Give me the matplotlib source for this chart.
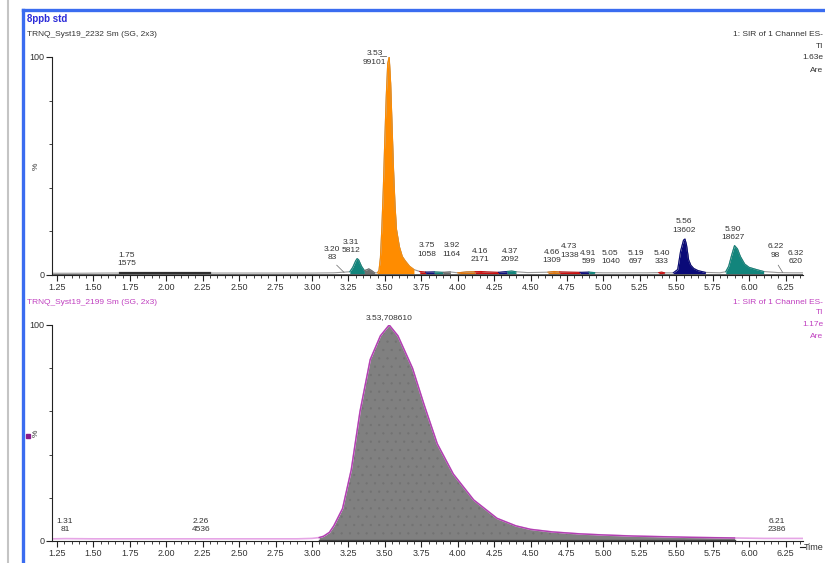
import numpy as np
import matplotlib
matplotlib.use('Agg')
import matplotlib.pyplot as plt
from matplotlib.lines import Line2D

plt.rcParams['font.family'] = ['Liberation Sans Narrow', 'Liberation Sans', 'DejaVu Sans']
plt.rcParams['hatch.linewidth'] = 0.4

# ---- top trace: TRNQ_Syst19_2232 (relative intensity, %)
t_top = [1.22, 1.40, 1.60, 1.68, 1.75, 1.90, 2.10, 2.30, 2.50, 2.80, 3.00, 3.15, 3.22, 3.26,
         3.28, 3.30, 3.31, 3.32, 3.34, 3.36, 3.38, 3.39, 3.41, 3.43, 3.45, 3.46, 3.47, 3.48,
         3.49, 3.50, 3.51, 3.52, 3.53, 3.54, 3.55, 3.56, 3.57, 3.58, 3.60, 3.62, 3.64, 3.67,
         3.70, 3.74, 3.78, 3.84, 3.90, 3.95, 4.00, 4.06, 4.12, 4.16, 4.20, 4.28, 4.34, 4.37,
         4.40, 4.48, 4.56, 4.62, 4.66, 4.70, 4.76, 4.84, 4.90, 4.94, 5.00, 5.10, 5.20, 5.30,
         5.38, 5.40, 5.42, 5.48, 5.51, 5.53, 5.55, 5.56, 5.57, 5.585, 5.60, 5.62, 5.65, 5.70,
         5.80, 5.84, 5.86, 5.88, 5.90, 5.92, 5.94, 5.97, 6.00, 6.05, 6.10, 6.20, 6.30, 6.37]
i_top = [0.8, 0.8, 0.9, 0.9, 1.0, 1.0, 1.0, 0.9, 0.9, 0.9, 0.9, 1.0, 1.3, 1.5,
         3.5, 6.5, 7.5, 7.0, 4.0, 2.0, 2.5, 2.8, 2.0, 1.0, 1.0, 2.0, 8.0, 22.0,
         40.0, 62.0, 82.0, 97.0, 100.0, 88.0, 68.0, 48.0, 32.0, 21.0, 13.0, 8.5, 6.5, 4.0,
         2.5, 1.6, 1.3, 1.4, 1.2, 1.4, 1.0, 1.4, 1.5, 1.6, 1.4, 1.2, 1.6, 1.8,
         1.5, 1.1, 1.2, 1.3, 1.6, 1.4, 1.3, 1.2, 1.3, 1.1, 1.0, 1.0, 1.0, 1.0,
         1.1, 1.3, 1.0, 1.0, 2.5, 11.0, 16.0, 16.5, 14.0, 7.0, 4.5, 3.0, 2.0, 1.2,
         1.0, 1.5, 4.0, 9.0, 13.5, 12.0, 8.5, 5.0, 3.5, 2.5, 1.6, 1.1, 1.0, 1.0]

# integrated peak windows (start, end) and their fill colours
win_start = [3.26, 3.36, 3.45, 3.72, 3.78, 3.84, 3.90, 4.00, 4.12, 4.28, 4.34, 4.60, 4.70, 4.84, 4.90, 5.38, 5.48, 5.84]
win_end   = [3.36, 3.43, 3.72, 3.78, 3.84, 3.90, 3.97, 4.12, 4.28, 4.34, 4.42, 4.70, 4.84, 4.90, 4.96, 5.42, 5.70, 6.10]
win_color = ['#12857c', '#707070', '#ff8c00', '#cc1010', '#101080', '#12857c', '#707070', '#e07810',
             '#cc1010', '#101080', '#12857c', '#e07810', '#cc1010', '#101080', '#12857c', '#cc1010',
             '#0a0a78', '#12857c']

# peak labels (retention time, area)
lab_top_rt   = ['1.75', '3.20', '3.31', '3.53', '3.75', '3.92', '4.16', '4.37', '4.66', '4.73',
                '4.91', '5.05', '5.19', '5.40', '5.56', '5.90', '6.22', '6.32']
lab_top_area = ['1575', '83', '5812', '99101', '1058', '1164', '2171', '2092', '1309', '1338',
                '599', '1040', '697', '333', '13602', '18627', '98', '620']
lab_top_x    = [1.73, 3.14, 3.27, 3.43, 3.79, 3.96, 4.155, 4.36, 4.647, 4.766,
                4.897, 5.048, 5.22, 5.40, 5.556, 5.89, 6.18, 6.32]
lab_top_y    = [3.5, 6.5, 9.5, 96.0, 8.0, 8.0, 5.5, 5.5, 5.0, 7.5,
                4.5, 4.5, 4.5, 4.5, 19.0, 15.5, 7.5, 4.5]

# ---- bottom trace: TRNQ_Syst19_2199
t_bot = [1.22, 1.31, 1.50, 2.00, 2.26, 2.50, 2.78, 2.90, 3.00, 3.05, 3.08, 3.12, 3.15, 3.21,
         3.27, 3.33, 3.40, 3.47, 3.53, 3.59, 3.65, 3.69, 3.77, 3.86, 3.97, 4.11, 4.27, 4.40,
         4.50, 4.65, 4.84, 5.00, 5.20, 5.40, 5.60, 5.90, 6.10, 6.21, 6.37]
i_bot = [1.0, 1.1, 1.0, 1.0, 1.0, 1.0, 1.0, 1.0, 1.2, 1.6, 2.2, 4.0, 7.0, 15.0,
         33.0, 60.0, 84.0, 95.0, 100.0, 95.0, 86.0, 80.0, 63.0, 45.0, 31.0, 19.0, 10.5, 7.0,
         5.4, 4.2, 3.3, 2.8, 2.3, 2.0, 1.7, 1.4, 1.2, 1.2, 1.2]
bot_win = (3.05, 5.92)

lab_bot_rt   = ['1.31', '2.26', '6.21']
lab_bot_area = ['81', '4536', '2386']
lab_bot_x    = [1.305, 2.24, 6.19]

t_top = np.array(t_top); i_top = np.array(i_top)
t_bot = np.array(t_bot); i_bot = np.array(i_bot)

W, H = 825, 563
fig = plt.figure(figsize=(W / 100, H / 100), dpi=100)
fig.patch.set_facecolor('white')

ax1 = fig.add_axes([52 / W, 1 - 275 / H, 751 / W, 218 / H])
ax2 = fig.add_axes([52 / W, 1 - 541 / H, 751 / W, 216 / H])

txt = '#333333'
for ax in (ax1, ax2):
    ax.set_xlim(1.216, 6.37)
    ax.set_ylim(0, 100)
    ax.spines['top'].set_visible(False)
    ax.spines['right'].set_visible(False)
    ax.spines['left'].set_color('#222222')
    ax.spines['bottom'].set_color('#222222')
    ax.set_xticks(np.arange(1.25, 6.26, 0.25))
    ax.set_xticklabels(['%.2f' % v for v in np.arange(1.25, 6.26, 0.25)])
    ax.set_xticks(np.arange(1.25, 6.36, 0.05), minor=True)
    ax.set_yticks([0, 100])
    ax.set_yticks([20, 40, 60, 80], minor=True)
    ax.tick_params(axis='both', which='major', direction='out', length=4, labelsize=6.5,
                   pad=1.5, colors='#222222', labelcolor=txt)
    ax.tick_params(axis='both', which='minor', direction='out', length=2, colors='#222222')
    ax.set_ylabel('%', fontsize=6, color=txt)
    ax.yaxis.set_label_coords(-12 / 751, 0.5)
    ax.patch.set_alpha(0)

# top panel
ax1.plot(t_top, i_top, color='#9a9a9a', lw=0.8)
seg = (t_top >= 1.68) & (t_top <= 2.30)
ax1.plot(t_top[seg], i_top[seg] * 0 + 0.8, color='#303030', lw=1.6)
for a, b, c in zip(win_start, win_end, win_color):
    m = (t_top >= a - 1e-9) & (t_top <= b + 1e-9)
    ax1.fill_between(t_top, 0.5, i_top, where=m, color=c, lw=0)
    ax1.plot(t_top[m], i_top[m], color=c, lw=0.8)
ax1.plot(t_top, i_top * 0 + 0.5, color='#505050', lw=0.6)
for rt, ar, x, y in zip(lab_top_rt, lab_top_area, lab_top_x, lab_top_y):
    ax1.text(x, y, rt + '\n' + ar, ha='center', va='bottom', fontsize=6, color=txt,
             linespacing=1.25, clip_on=False)
ax1.plot([3.47, 3.51], [100.5, 100.5], color='#666666', lw=0.6, clip_on=False)
ax1.plot([3.17, 3.22], [4.5, 1.2], color='#666666', lw=0.5)
ax1.plot([6.20, 6.23], [4.5, 1.2], color='#666666', lw=0.5)

# bottom panel
pink = '#b040b0'
m = (t_bot >= bot_win[0]) & (t_bot <= bot_win[1])
ax2.fill_between(t_bot, 0.6, i_bot, where=m, color='#808080', lw=0)
ax2.fill_between(t_bot, 0.6, i_bot, where=m, facecolor='none', edgecolor='#727272',
                 hatch='..', lw=0)
ax2.plot(t_bot, i_bot, color='#e6a6e6', lw=1.2)
ax2.plot(t_bot[m], i_bot[m], color=pink, lw=1.0)
ax2.plot(t_bot[m], i_bot[m] * 0 + 0.6, color='#444444', lw=1.0)
for rt, ar, x in zip(lab_bot_rt, lab_bot_area, lab_bot_x):
    ax2.text(x, 3.5, rt + '\n' + ar, ha='center', va='bottom', fontsize=6, color=txt,
             linespacing=1.25)
ax2.text(3.53, 102, '3.53,708610', ha='center', va='bottom', fontsize=6, color=txt,
         clip_on=False)

# headers
fig.text(27 / W, 1 - 19 / H, '8ppb std', fontsize=7, fontweight='bold', color='#2b2bd8',
         va='center')
fig.text(27 / W, 1 - 35 / H, 'TRNQ_Syst19_2232 Sm (SG, 2x3)', fontsize=6, color=txt, va='center')
fig.text(823 / W, 1 - 35 / H, '1: SIR of 1 Channel ES-', fontsize=6, color=txt, va='center', ha='right')
fig.text(823 / W, 1 - 47 / H, 'TI', fontsize=6, color=txt, va='center', ha='right')
fig.text(823 / W, 1 - 58 / H, '1.63e', fontsize=6, color=txt, va='center', ha='right')
fig.text(823 / W, 1 - 70 / H, 'Are', fontsize=6, color=txt, va='center', ha='right')

mag = '#c040c0'
fig.text(27 / W, 1 - 302 / H, 'TRNQ_Syst19_2199 Sm (SG, 2x3)', fontsize=6, color=mag, va='center')
fig.text(823 / W, 1 - 302 / H, '1: SIR of 1 Channel ES-', fontsize=6, color=mag, va='center', ha='right')
fig.text(823 / W, 1 - 313 / H, 'TI', fontsize=6, color=mag, va='center', ha='right')
fig.text(823 / W, 1 - 325 / H, '1.17e', fontsize=6, color=mag, va='center', ha='right')
fig.text(823 / W, 1 - 337 / H, 'Are', fontsize=6, color=mag, va='center', ha='right')
fig.text(823 / W, 1 - 547 / H, 'Time', fontsize=6.5, color=txt, va='center', ha='right')
fig.add_artist(Line2D([800 / W, 805 / W], [1 - 547 / H, 1 - 547 / H], color='#222222', lw=0.8))

# purple marker on the left
fig.add_artist(Line2D([28 / W], [1 - 436 / H], marker='s', markersize=3.5, color='#8a1a8a', lw=0))

# window frame
fig.add_artist(Line2D([8 / W, 8 / W], [0, 1], color='#c4c4c4', lw=1.5))
fig.add_artist(Line2D([23 / W, 23 / W], [0, 1 - 10 / H], color='#3a6cf0', lw=2.4))
fig.add_artist(Line2D([23 / W, 1], [1 - 10 / H, 1 - 10 / H], color='#3a6cf0', lw=2.4))

fig.savefig('out.png', dpi=100)
